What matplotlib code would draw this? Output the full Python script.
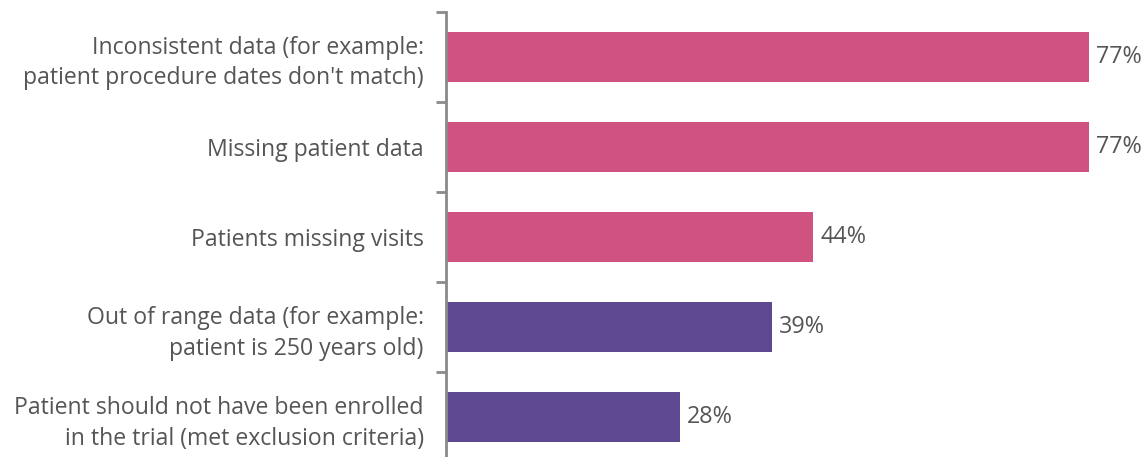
import matplotlib
matplotlib.use("Agg")
import matplotlib.pyplot as plt

labels = [
    "Inconsistent data (for example:\npatient procedure dates don't match)",
    "Missing patient data",
    "Patients missing visits",
    "Out of range data (for example:\npatient is 250 years old)",
    "Patient should not have been enrolled\nin the trial (met exclusion criteria)",
]
values = [77, 77, 44, 39, 28]
colors = ["#D05281", "#D05281", "#D05281", "#5E4892", "#5E4892"]

plt.rcParams['font.family'] = ['Open Sans', 'DejaVu Sans']

W, H = 1147, 457
fig = plt.figure(figsize=(W / 100, H / 100), dpi=100)
ax = fig.add_axes([446 / W, 0, 668 / W, 1 - 12 / H])

y = list(range(len(values)))
ax.barh(y, values, height=0.55, color=colors)
ax.set_xlim(0, 80)
ax.set_ylim(4.944 - 0.5, -0.5)

for yi, v in zip(y, values):
    ax.text(v + 0.9, yi, f"{v}%", va="center", ha="left", fontsize=16.8, color="#555555")

ax.set_yticks(y)
ax.set_yticklabels(labels, fontsize=16.6, color="#555555", linespacing=1.36)
ax.tick_params(axis="y", which="major", length=0, pad=16)
ax.set_yticks([i - 0.5 for i in range(len(values))], minor=True)
ax.tick_params(axis="y", which="minor", length=7, width=2, color="#8a8a8a")
ax.set_xticks([])

for s in ["top", "right", "bottom"]:
    ax.spines[s].set_visible(False)
ax.spines["left"].set_color("#8a8a8a")
ax.spines["left"].set_linewidth(2)

fig.savefig("out.png", dpi=100)
